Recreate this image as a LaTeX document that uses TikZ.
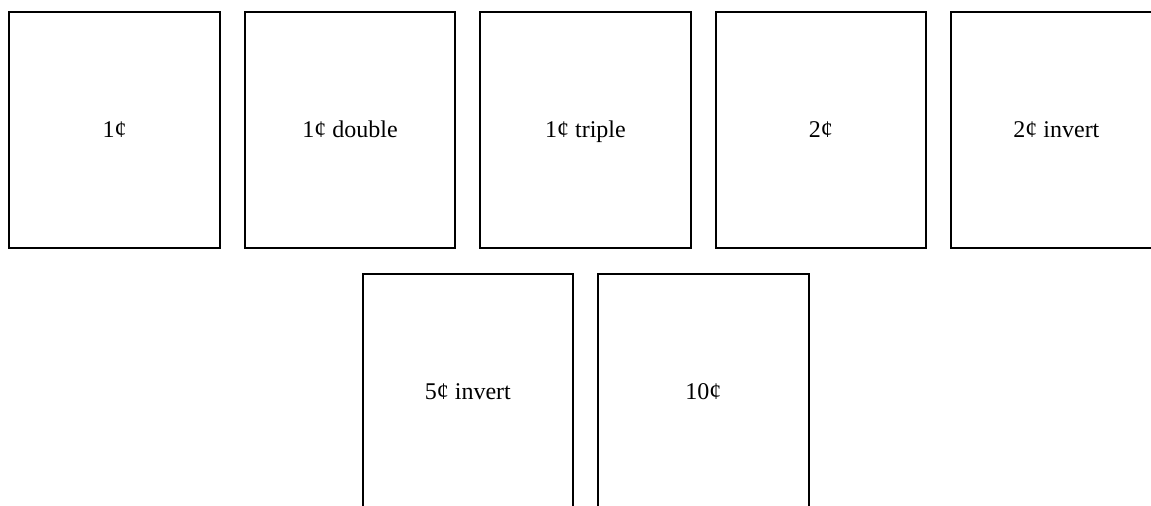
\documentclass[tikz,border=0pt]{standalone}
\usepackage{fontspec}
\setmainfont{Liberation Serif}
\usetikzlibrary{positioning}

\begin{document}
\begin{tikzpicture}[
  x=0.75pt, y=-0.75pt,
  coin/.style={draw, line width=1.5pt, minimum width=158pt, minimum height=177pt, inner sep=0pt, text height=12.2pt, text depth=1.6pt, font=\fontsize{18}{21}\selectfont},
]

\def\coingap{17.1pt}

\useasboundingbox (0,0) rectangle (1151,506);
\clip (0,0) rectangle (1151,506);

% --- top row ---
\node[coin, anchor=north west] (c1) at (8.2,11) {1¢};
\node[coin, right=\coingap of c1] (c2) {1¢ double};
\node[coin, right=\coingap of c2] (c3) {1¢ triple};
\node[coin, right=\coingap of c3] (c4) {2¢};
\node[coin, right=\coingap of c4] (c5) {2¢ invert};

% --- bottom row ---
\node[coin, anchor=north west] (c6) at (361.5,273) {5¢ invert};
\node[coin, right=\coingap of c6] (c7) {10¢};

\end{tikzpicture}
\end{document}
